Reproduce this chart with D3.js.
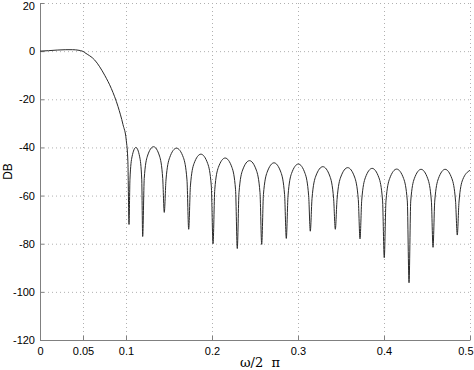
<!DOCTYPE html>
<html lang="en">
<head>
<meta charset="utf-8">
<title>Filter response</title>
<script src="https://d3js.org/d3.v7.min.js"></script>
<style>
  body { margin: 0; background: #fff; }
  svg { font-family: "Liberation Sans", Arial, sans-serif; }
  .grid line { stroke: #b0b0b0; stroke-dasharray: 1,3; }
  .axis .domain { stroke: #808080; }
  .axis .tick line { stroke: #808080; }
  .axis text { fill: #000; font-size: 11px; }
</style>
</head>
<body>
<div id="chart"></div>
<script>

  // normalized frequency (w/2pi)
  var freq = [
    0, 0.01, 0.02, 0.03, 0.038, 0.0442, 0.05, 0.052, 0.0636, 0.0752, 0.0829, 0.0907, 0.0965, 0.1003, 0.1022,
    0.1035, 0.1046, 0.1070, 0.1115, 0.1159, 0.1183,
    0.1194, 0.1212, 0.1249, 0.1320, 0.1390, 0.1427,
    0.1445, 0.1465, 0.1508, 0.1587, 0.1667, 0.1709,
    0.1729, 0.1749, 0.1791, 0.1871, 0.1950, 0.1992,
    0.2012, 0.2032, 0.2074, 0.2153, 0.2232, 0.2274,
    0.2294, 0.2314, 0.2356, 0.2436, 0.2515, 0.2558,
    0.2578, 0.2598, 0.2641, 0.2721, 0.2801, 0.2844,
    0.2864, 0.2884, 0.2925, 0.3004, 0.3082, 0.3124,
    0.3143, 0.3163, 0.3207, 0.3289, 0.3370, 0.3414,
    0.3434, 0.3454, 0.3497, 0.3578, 0.3658, 0.3701,
    0.3721, 0.3741, 0.3783, 0.3862, 0.3941, 0.3983,
    0.4003, 0.4023, 0.4066, 0.4147, 0.4228, 0.4271,
    0.4291, 0.4311, 0.4352, 0.4431, 0.4509, 0.4551,
    0.4570, 0.4590, 0.4632, 0.4711, 0.4790, 0.4832,
    0.4852, 0.4872, 0.4915, 0.5
  ];

  // magnitude in dB at each frequency
  var mag = [
    0, 0.2, 0.45, 0.6, 0.6, 0.4, -0.1, -0.6, -3.7, -10, -15.5, -23, -30.5, -37, -46,
    -72, -53.2, -43.9, -40, -43.9, -53.2,
    -77, -52.9, -43.6, -39.7, -43.6, -52.9,
    -67, -53.5, -44.2, -40.3, -44.2, -53.5,
    -74, -56, -46.7, -42.8, -46.7, -56,
    -80, -57.6, -48.3, -44.4, -48.3, -57.6,
    -82, -58.7, -49.4, -45.5, -49.4, -58.7,
    -80.3, -59.6, -50.3, -46.4, -50.3, -59.6,
    -77.8, -60.1, -50.8, -46.9, -50.8, -60.1,
    -74.8, -61.2, -51.9, -48, -51.9, -61.2,
    -74, -61.6, -52.3, -48.4, -52.3, -61.6,
    -78, -61.9, -52.6, -48.7, -52.6, -61.9,
    -85.8, -62.2, -52.9, -49, -52.9, -62.2,
    -96.2, -62.3, -53, -49.1, -53, -62.3,
    -81.5, -62.3, -53, -49.1, -53, -62.3,
    -76.4, -62.7, -53.4, -49.5
  ];

  var xTicks = [0, 0.05, 0.1, 0.2, 0.3, 0.4, 0.5];
  var xTickLabels = ["0", "0.05", "0.1", "0.2", "0.3", "0.4", "0.5"];
  var yTicks = [-120, -100, -80, -60, -40, -20, 0, 20];
  var yTickLabels = ["-120", "-100", "-80", "-60", "-40", "-20", "0", "20"];

  var width = 474, height = 370;
  var m = {top: 3, right: 4, bottom: 30, left: 40};

  var svg = d3.select("#chart").append("svg")
      .attr("width", width)
      .attr("height", height);

  var x = d3.scaleLinear()
      .domain([0, 0.5])
      .range([m.left, width - m.right]);

  var y = d3.scaleLinear()
      .domain([-120, 20])
      .range([height - m.bottom, m.top]);

  //----------------------------------
  //grid
  var grid = svg.append("g").attr("class", "grid");

  grid.selectAll(".vx")
    .data(xTicks.slice(1))
    .enter().append("line")
      .attr("x1", function(d) { return x(d) + 0.5; })
      .attr("x2", function(d) { return x(d) + 0.5; })
      .attr("y1", y(-120))
      .attr("y2", y(20));

  grid.selectAll(".hy")
    .data(yTicks.slice(1))
    .enter().append("line")
      .attr("x1", x(0))
      .attr("x2", x(0.5))
      .attr("y1", function(d) { return y(d) + 0.5; })
      .attr("y2", function(d) { return y(d) + 0.5; });

  //----------------------------------
  //axes
  var xAxis = svg.append("g")
      .attr("class", "axis")
      .attr("transform", "translate(0," + y(-120) + ")")
      .call(d3.axisBottom(x)
        .tickValues(xTicks)
        .tickSize(-4)
        .tickSizeOuter(0)
        .tickPadding(7)
        .tickFormat(function(d, i) { return xTickLabels[i]; }));

  // last label sits flush with the right edge, like the original
  xAxis.selectAll(".tick text")
      .filter(function(d) { return d === 0.5; })
      .attr("text-anchor", "end")
      .attr("dx", 3);

  var yAxis = svg.append("g")
      .attr("class", "axis")
      .attr("transform", "translate(" + x(0) + ",0)")
      .call(d3.axisLeft(y)
        .tickValues(yTicks)
        .tickSize(-4)
        .tickSizeOuter(0)
        .tickPadding(5)
        .tickFormat(function(d, i) { return yTickLabels[i]; }));

  // keep the top label inside the picture
  yAxis.selectAll(".tick text")
      .filter(function(d) { return d === 20; })
      .attr("dy", "0.55em");

  //----------------------------------
  //response curve
  var line = d3.line()
      .x(function(d, i) { return x(freq[i]); })
      .y(function(d) { return y(d); })
      .curve(d3.curveMonotoneX);

  svg.append("path")
      .datum(mag)
      .attr("fill", "none")
      .attr("stroke", "#2a2a2a")
      .attr("stroke-width", 1)
      .attr("d", line);

  //----------------------------------
  //labels
  svg.append("text")
      .attr("transform", "translate(12," + y(-50) + ") rotate(-90)")
      .attr("text-anchor", "middle")
      .attr("font-size", 12)
      .text("DB");

  svg.append("text")
      .attr("x", 260)
      .attr("y", 367)
      .attr("text-anchor", "middle")
      .attr("font-size", 13)
      .attr("font-family", "'DejaVu Serif', serif")
      .text("\u03c9/2  \u03c0")
      .style("white-space", "pre");

</script>
</body>
</html>
